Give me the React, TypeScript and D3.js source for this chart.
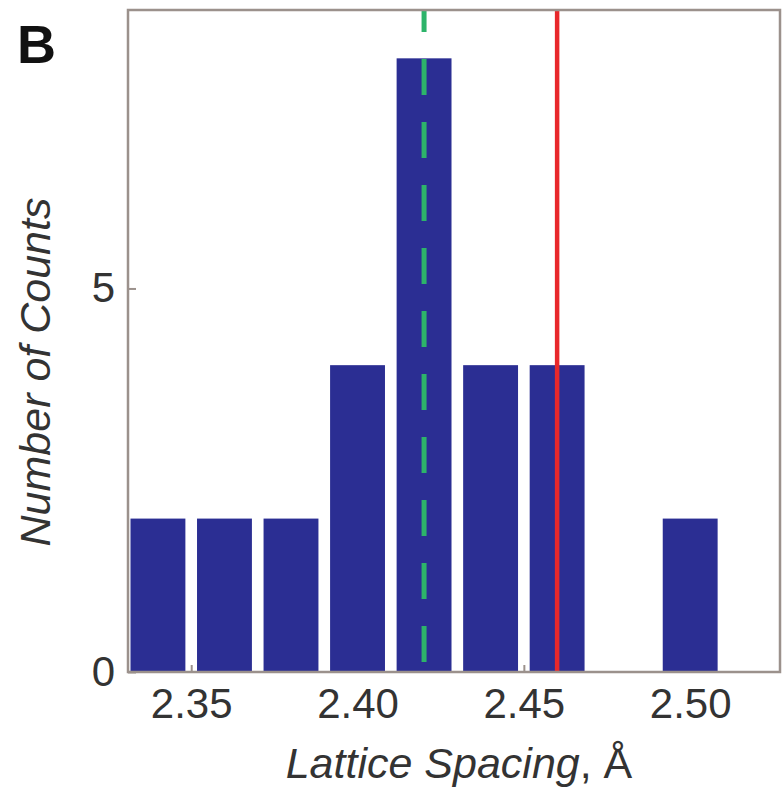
import React, { useEffect, useRef } from "react";
import * as d3 from "d3";

// histogram bins (centre of each bin, in Å) and counts
const binCenters = [2.34, 2.36, 2.38, 2.4, 2.42, 2.44, 2.46, 2.48, 2.5];
const counts = [2, 2, 2, 4, 8, 4, 4, 0, 2];
const xTickValues = [2.35, 2.4, 2.45, 2.5];
const yTickValues = [0, 5];
const greenLineAt = 2.42; // dashed marker
const redLineAt = 2.46; // solid marker

const W = 783;
const H = 790;

export default function App() {
  const svgRef = useRef<SVGSVGElement>(null);

  useEffect(() => {
    const svg = d3.select(svgRef.current);
    svg.selectAll("*").remove();

    const left = 128,
      right = 780,
      top = 10,
      bottom = 672;
    const font = "'Liberation Sans', Arial, sans-serif";
    const frame = "#9b918c";

    const x = d3.scaleLinear().domain([2.331, 2.527]).range([left, right]);
    const y = d3.scaleLinear().domain([0, 8.63]).range([bottom, top]);

    // axes (ticks point inward)
    const xAxis = svg
      .append("g")
      .attr("transform", `translate(0,${bottom})`)
      .call(
        d3
          .axisBottom(x)
          .tickValues(xTickValues)
          .tickFormat(d3.format(".2f"))
          .tickSizeInner(-7)
          .tickSizeOuter(0)
          .tickPadding(16)
      );

    const yAxis = svg
      .append("g")
      .attr("transform", `translate(${left},0)`)
      .call(
        d3
          .axisLeft(y)
          .tickValues(yTickValues)
          .tickFormat(d3.format("d"))
          .tickSizeInner(-8)
          .tickSizeOuter(0)
          .tickPadding(13)
      );

    [xAxis, yAxis].forEach((g) => {
      g.select(".domain").remove();
      g.selectAll(".tick line").attr("stroke", frame).attr("stroke-width", 2);
      g.selectAll(".tick text")
        .attr("fill", "#333")
        .style("font-family", font)
        .style("font-size", "42px");
    });

    // bars
    const half = 0.00825;
    svg
      .append("g")
      .selectAll("rect")
      .data(binCenters.map((c, i) => ({ c, n: counts[i] })))
      .join("rect")
      .attr("x", (d) => x(d.c - half))
      .attr("width", (d) => x(d.c + half) - x(d.c - half))
      .attr("y", (d) => y(d.n))
      .attr("height", (d) => y(0) - y(d.n))
      .attr("fill", "#2b2e93");

    // marker lines
    svg
      .append("line")
      .attr("x1", x(greenLineAt))
      .attr("x2", x(greenLineAt))
      .attr("y1", top)
      .attr("y2", bottom)
      .attr("stroke", "#2db46a")
      .attr("stroke-width", 5)
      .attr("stroke-dasharray", "36 27")
      .attr("stroke-dashoffset", 14);

    svg
      .append("line")
      .attr("x1", x(redLineAt))
      .attr("x2", x(redLineAt))
      .attr("y1", top)
      .attr("y2", bottom)
      .attr("stroke", "#e8282b")
      .attr("stroke-width", 4.5);

    // frame
    svg
      .append("rect")
      .attr("x", left)
      .attr("y", top)
      .attr("width", right - left)
      .attr("height", bottom - top)
      .attr("fill", "none")
      .attr("stroke", frame)
      .attr("stroke-width", 2.5);

    // labels
    svg
      .append("text")
      .attr("x", 17)
      .attr("y", 63)
      .attr("fill", "#111")
      .style("font-family", font)
      .style("font-weight", "bold")
      .style("font-size", "54px")
      .text("B");

    const xl = svg
      .append("text")
      .attr("x", 459)
      .attr("y", 778)
      .attr("text-anchor", "middle")
      .attr("fill", "#333")
      .style("font-family", font)
      .style("font-size", "43px");
    xl.append("tspan").style("font-style", "italic").text("Lattice Spacing");
    xl.append("tspan").text(", Å");

    svg
      .append("text")
      .attr("transform", `translate(50,372) rotate(-90)`)
      .attr("text-anchor", "middle")
      .attr("fill", "#333")
      .style("font-family", font)
      .style("font-style", "italic")
      .style("font-size", "43px")
      .text("Number of Counts");
  }, []);

  return (
    <svg
      ref={svgRef}
      width={W}
      height={H}
      style={{ position: "absolute", left: 0, top: 0, background: "#fff" }}
    ></svg>
  );
}
